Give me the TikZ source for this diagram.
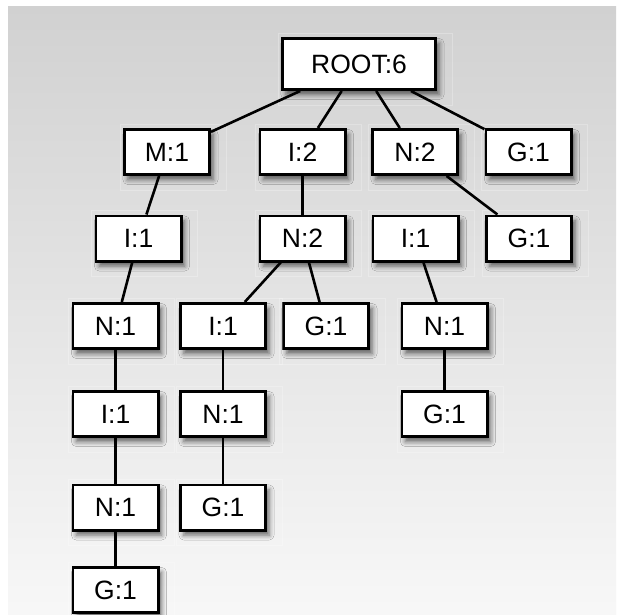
\documentclass[tikz,border=0pt]{standalone}
\usepackage{fontspec}
\setmainfont{Liberation Sans}
\usetikzlibrary{shadows.blur}
\begin{document}
\begin{tikzpicture}[x=1pt,y=-1pt,
  box/.style={draw=black, line width=2.8pt, fill=white,
    minimum width=85.2pt, minimum height=45.2pt, inner sep=0pt,
    font=\fontsize{26.5pt}{31pt}\selectfont,
    blur shadow={shadow xshift=3.5pt, shadow yshift=-5pt, shadow blur radius=5pt, shadow opacity=60}},
  rootbox/.style={box, minimum width=153.2pt, minimum height=51.2pt},
  edge/.style={line width=2.6pt},
  cell/.style={draw=white, draw opacity=0.25, line width=0.6pt}]
\useasboundingbox (0,0) rectangle (621,615);
\fill[white] (0,0) rectangle (621,615);
\shade[top color=black!18, bottom color=black!3] (8,7) rectangle (616,615);
% nodes
\node[rootbox] (root) at (359,64) {ROOT:6};
\node[box] (m1) at (167,152) {M:1};
\node[box] (i2) at (302.5,152) {I:2};
\node[box] (n2) at (415,152) {N:2};
\node[box] (g1) at (528.5,152) {G:1};
\node[box] (i1a) at (138.5,238.5) {I:1};
\node[box] (n2b) at (302.5,238.5) {N:2};
\node[box] (i1b) at (415.5,238.5) {I:1};
\node[box] (g1b) at (529,238.5) {G:1};
\node[box] (n1a) at (115.5,326) {N:1};
\node[box] (i1c) at (223,326) {I:1};
\node[box] (g1c) at (326,326) {G:1};
\node[box] (n1b) at (444.5,326) {N:1};
\node[box] (i1d) at (115.5,414) {I:1};
\node[box] (n1c) at (223,414) {N:1};
\node[box] (g1d) at (444.5,414) {G:1};
\node[box] (n1d) at (115.5,507.5) {N:1};
\node[box] (g1e) at (223,507.5) {G:1};
\node[box] (g1f) at (115.5,590) {G:1};
% faint cells
\foreach \n in {root,m1,i2,n2,g1,i1a,n2b,i1b,g1b,n1a,i1c,g1c,n1b,i1d,n1c,g1d,n1d,g1e,g1f}
  \draw[cell] ([shift={(-3,-4)}]\n.north west) rectangle ([shift={(15,14)}]\n.south east);
% edges
\draw[edge] (root) -- (m1);
\draw[edge] (root) -- (i2);
\draw[edge] (root) -- (n2);
\draw[edge] (root) -- (g1);
\draw[edge] (m1) -- (i1a);
\draw[edge] (i2) -- (n2b);
\draw[edge] (n2) -- (g1b);
\draw[edge] (i1a) -- (n1a);
\draw[edge] (n2b) -- (i1c);
\draw[edge] (n2b) -- (g1c);
\draw[edge] (i1b) -- (n1b);
\draw[edge] (n1a) -- (i1d);
\draw[edge] (i1c) -- (n1c);
\draw[edge] (n1b) -- (g1d);
\draw[edge] (i1d) -- (n1d);
\draw[edge] (n1c) -- (g1e);
\draw[edge] (n1d) -- (g1f);
\end{tikzpicture}
\end{document}
